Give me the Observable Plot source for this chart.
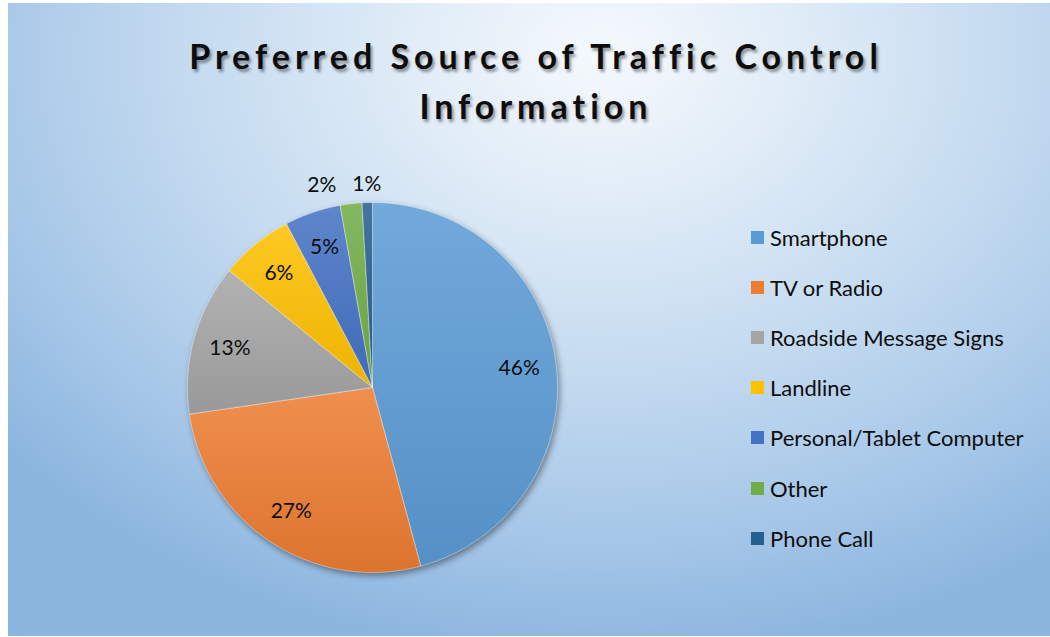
<!DOCTYPE html>
<html><head><meta charset="utf-8">
<script src="https://cdn.jsdelivr.net/npm/d3@7"></script>
<script src="https://cdn.jsdelivr.net/npm/@observablehq/plot@0.6"></script>
<style>
html,body{margin:0;padding:0;background:#fff;}
#wrap{position:relative;width:1050px;height:637px;overflow:hidden;font-family:Lato,"Open Sans",sans-serif;}
#panel{position:absolute;left:8px;top:3px;width:1042px;height:633px;
  background:radial-gradient(ellipse 75% 95% at 57% 8%, #f5f9fd 0%, #e0ecf7 25%, #c2d9ef 55%, #a6c7e8 80%, #8db6df 100%);}
#title{position:absolute;left:8px;width:1056px;top:31px;text-align:center;font-weight:700;font-size:34px;letter-spacing:5px;line-height:50px;color:#0d0d0d;text-shadow:2px 3px 3px rgba(0,0,0,0.4);}
#chart{position:absolute;left:132px;top:147px;}
#legend{position:absolute;left:751px;top:212px;}
.row{display:flex;align-items:center;height:50.2px;font-size:22px;color:#0d0d0d;white-space:nowrap;}
.sw{width:13px;height:13px;margin-right:6px;flex:none;}
</style></head>
<body>
<div id="wrap">
  <div id="panel"></div>
  <div id="title">Preferred Source of Traffic Control<br>Information</div>
  <div id="chart"></div>
  <div id="legend"></div>
</div>
<script>
const categories = ["Smartphone", "TV or Radio", "Roadside Message Signs", "Landline", "Personal/Tablet Computer", "Other", "Phone Call"];
const shares = [45.8, 26.9, 13.2, 6.4, 4.9, 1.9, 0.9];
const colors = ["#5B9BD5", "#ED7D31", "#A5A5A5", "#FFC000", "#4472C4", "#70AD47", "#255E91"];

const rows = categories.map((c, i) => ({cat: c, value: shares[i]}));
const arcs = d3.pie().sort(null).value(d => d.value)(rows);

// slice outlines (unit circle, 12 o'clock, clockwise)
const slicePts = [];
arcs.forEach(a => {
  const cat = a.data.cat;
  const n = Math.max(2, Math.ceil((a.endAngle - a.startAngle) / (Math.PI / 360)));
  slicePts.push({cat, x: 0, y: 0});
  for (let k = 0; k <= n; k++) {
    const t = a.startAngle + (a.endAngle - a.startAngle) * k / n;
    slicePts.push({cat, x: Math.sin(t), y: Math.cos(t)});
  }
  slicePts.push({cat, x: 0, y: 0});
});

// label positions
const PX = 185; // pixels per unit radius
const labelPts = arcs.map(a => {
  const mid = (a.startAngle + a.endAngle) / 2;
  const inside = (a.endAngle - a.startAngle) * 0.8 * PX >= 32;
  const r = inside ? 0.8 : 1.1;
  return {x: r * Math.sin(mid), y: r * Math.cos(mid), text: Math.round(a.data.value) + "%", inside};
});
const outside = labelPts.filter(d => !d.inside).sort((a, b) => b.x - a.x);
const minSep = 45 / PX;
for (let i = 1; i < outside.length; i++) {
  if (outside[i - 1].x - outside[i].x < minSep) outside[i].x = outside[i - 1].x - minSep;
}

const S = 240 / PX;
const chart = Plot.plot({
  width: 480, height: 480, margin: 0,
  x: {domain: [-S, S], axis: null},
  y: {domain: [-S, S], axis: null},
  color: {type: "ordinal", domain: categories, range: categories.map((c, i) => `url(#g${i})`)},
  style: {background: "transparent", fontFamily: "Lato, sans-serif", overflow: "visible"},
  marks: [
    Plot.line(slicePts, {x: "x", y: "y", z: "cat", fill: "cat", stroke: "#ffffff", strokeOpacity: 0.5, strokeWidth: 0.8, curve: "linear"}),
    Plot.text(labelPts, {x: "x", y: "y", text: "text", fontSize: 21, fill: "#0d0d0d"})
  ]
});

const defs = d3.select(chart).insert("defs", ":first-child");
colors.forEach((c, i) => {
  const g = defs.append("linearGradient").attr("id", `g${i}`).attr("x1", 0).attr("y1", 0).attr("x2", 0).attr("y2", 1);
  g.append("stop").attr("offset", "0%").attr("stop-color", d3.interpolateRgb(c, "#ffffff")(0.14));
  g.append("stop").attr("offset", "100%").attr("stop-color", d3.interpolateRgb(c, "#000000")(0.07));
});
d3.select(chart).select('g[aria-label="line"]').style("filter", "drop-shadow(2px 3px 3px rgba(0,0,0,0.4))");
document.getElementById("chart").appendChild(chart);

const legend = d3.select("#legend");
categories.forEach((c, i) => {
  const r = legend.append("div").attr("class", "row");
  r.append("div").attr("class", "sw").style("background", colors[i]);
  r.append("span").text(c);
});
</script>
</body></html>
